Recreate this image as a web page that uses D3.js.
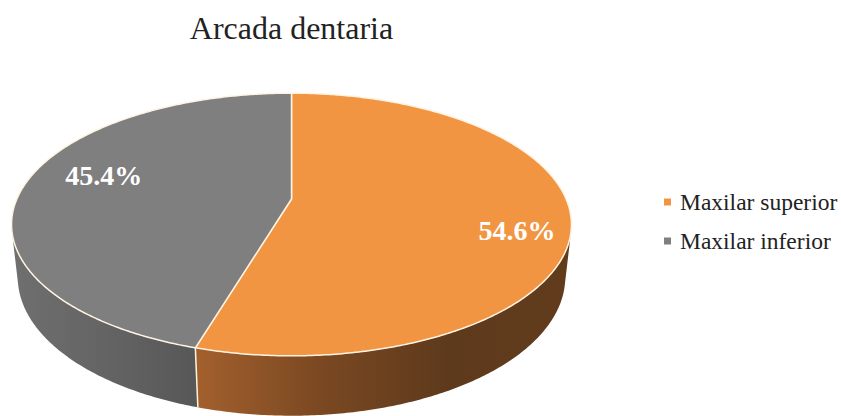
<!DOCTYPE html>
<html>
<head>
<meta charset="utf-8">
<script src="https://cdn.jsdelivr.net/npm/d3@7"></script>
<style>
  body { margin: 0; background: #ffffff; }
  svg { display: block; }
  text { font-family: "Liberation Serif", "Times New Roman", "DejaVu Serif", serif; }
</style>
</head>
<body>
<svg id="chart" width="841" height="416"></svg>
<script>
// ---- data ----
const chartTitle = "Arcada dentaria";
const categories = ["Maxilar superior", "Maxilar inferior"];
const shares = [54.6, 45.4];

// ---- styling ----
const topColors = ["#F29542", "#7F7F7F"];
const sideGradients = [
  ["#A3602D", "#7A4822", "#5E3A1C", "#613B1C"],
  ["#6F6F6F", "#646464", "#575757"]
];
const edgeColor = "#FFF3E2";

// ---- 3D view: a disc of radius 1 seen from above with perspective ----
const view = { cx: 291.5, cy: 199, F: 1257, D: 4.577, tilt: 27.4 * Math.PI / 180, depth: 0.2175 };
const sinT = Math.sin(view.tilt), cosT = Math.cos(view.tilt);

function project(X, Z, Y) {
  const y = Z * sinT + Y * cosT;
  const d = view.D - Z * cosT + Y * sinT;
  return [view.cx + view.F * X / d, view.cy + view.F * y / d];
}
// angle measured clockwise from the far (12 o'clock) point of the disc
function rim(a, Y, r = 1) {
  return project(r * Math.sin(a), -r * Math.cos(a), Y);
}
function sampleArc(a0, a1, Y, r = 1) {
  const n = Math.max(2, Math.ceil(Math.abs(a1 - a0) / 0.01));
  return d3.range(n + 1).map(i => rim(a0 + (a1 - a0) * i / n, Y, r));
}

const svg = d3.select("#chart");
const defs = svg.append("defs");
const line = d3.line();

const arcs = d3.pie().sort(null).value(d => d)(shares);

// the outer wall faces the camera where Z > 1 / (D cos t)
const zs = 1 / (view.D * cosT);
const visStart = Math.acos(-zs), visEnd = 2 * Math.PI - Math.acos(-zs);

// ---- side walls ----
const sides = svg.append("g");
arcs.forEach((p, i) => {
  const a0 = Math.max(p.startAngle, visStart);
  const a1 = Math.min(p.endAngle, visEnd);
  if (a1 <= a0) return;
  const top = sampleArc(a0, a1, 0);
  const bottom = sampleArc(a1, a0, view.depth);
  const pts = top.concat(bottom);
  const xs = pts.map(q => q[0]);
  const gid = "side" + i;
  const g = defs.append("linearGradient").attr("id", gid)
    .attr("gradientUnits", "userSpaceOnUse")
    .attr("x1", d3.min(xs)).attr("x2", d3.max(xs)).attr("y1", 0).attr("y2", 0);
  const stops = sideGradients[i];
  stops.forEach((c, k) => g.append("stop")
    .attr("offset", k / (stops.length - 1)).attr("stop-color", c));
  sides.append("path")
    .attr("d", line(pts) + "Z")
    .attr("fill", `url(#${gid})`);
});

// vertical seams on the wall at slice boundaries
arcs.forEach(p => {
  const a = p.endAngle;
  if (a > visStart && a < visEnd) {
    sides.append("path")
      .attr("d", line([rim(a, 0), rim(a, view.depth)]))
      .attr("stroke", edgeColor).attr("stroke-width", 1.5).attr("fill", "none");
  }
});

// ---- top faces ----
const tops = svg.append("g");
arcs.forEach((p, i) => {
  const pts = [project(0, 0, 0)].concat(sampleArc(p.startAngle, p.endAngle, 0));
  tops.append("path")
    .attr("d", line(pts) + "Z")
    .attr("fill", topColors[i])
    .attr("stroke", edgeColor)
    .attr("stroke-width", 1.5)
    .attr("stroke-linejoin", "round");
});

// ---- data labels ----
const labelRadius = 0.8;
const labelNudge = [[3, 17], [25, -9]];
const fmt = d3.format(".1f");
arcs.forEach((p, i) => {
  const mid = (p.startAngle + p.endAngle) / 2;
  const [x, y] = rim(mid, 0, labelRadius);
  svg.append("text")
    .attr("x", x + labelNudge[i][0])
    .attr("y", y + labelNudge[i][1])
    .attr("text-anchor", "middle")
    .attr("dominant-baseline", "central")
    .attr("font-weight", "bold")
    .attr("font-size", 28)
    .attr("fill", "#ffffff")
    .text(fmt(p.value) + "%");
});

// ---- title ----
svg.append("text")
  .attr("x", view.cx)
  .attr("y", 39)
  .attr("text-anchor", "middle")
  .attr("font-size", 32)
  .attr("fill", "#222222")
  .text(chartTitle);

// ---- legend ----
const legendY = d3.scalePoint().domain(categories).range([202, 241]);
const legend = svg.append("g");
categories.forEach((c, i) => {
  const y = legendY(c);
  legend.append("rect")
    .attr("x", 664).attr("y", y - 3.5)
    .attr("width", 7).attr("height", 7)
    .attr("fill", topColors[i]);
  legend.append("text")
    .attr("x", 680).attr("y", y)
    .attr("dominant-baseline", "central")
    .attr("font-size", 23.5)
    .attr("fill", "#222222")
    .text(c);
});
</script>
</body>
</html>
